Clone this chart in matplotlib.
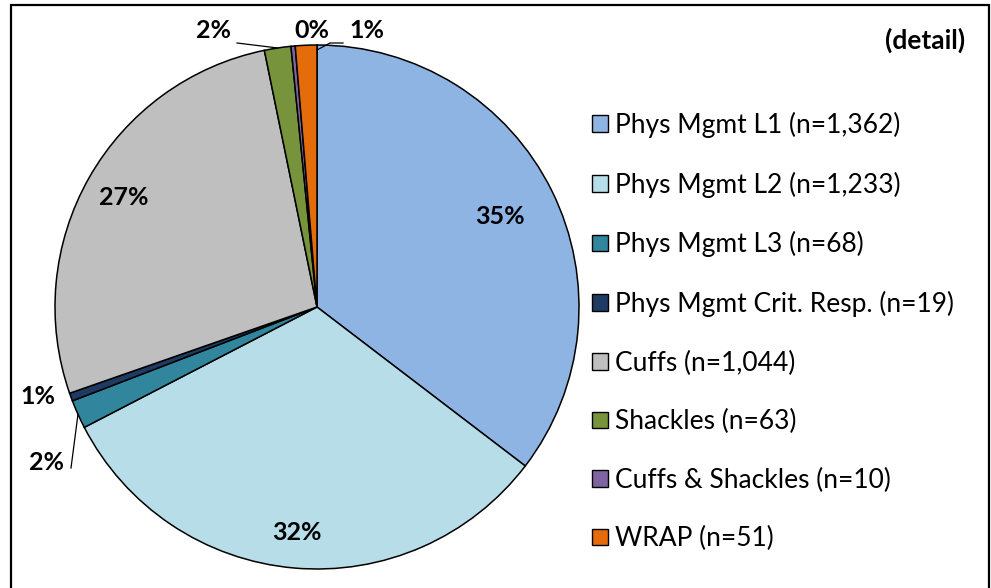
import matplotlib
matplotlib.use("Agg")
import matplotlib.pyplot as plt
from matplotlib.patches import Rectangle, Patch
import numpy as np

plt.rcParams['font.family'] = ['Lato', 'DejaVu Sans']

categories = ["Phys Mgmt L1", "Phys Mgmt L2", "Phys Mgmt L3", "Phys Mgmt Crit. Resp.",
              "Cuffs", "Shackles", "Cuffs & Shackles", "WRAP"]
counts = [1362, 1233, 68, 19, 1044, 63, 10, 51]
pct_labels = ["35%", "32%", "2%", "1%", "27%", "2%", "0%", "1%"]
colors = ["#8EB4E3", "#B7DEE8", "#31859C", "#1F3B63", "#BFBFBF", "#77933C", "#8064A2", "#E46C0A"]
title_text = "(detail)"

W, H = 991, 588
fig = plt.figure(figsize=(W / 100, H / 100), dpi=100)

# frame
fig.patches.append(Rectangle((11 / W, -0.05), (989 - 11) / W, (H - 5) / H + 0.05,
                             transform=fig.transFigure, fill=False, edgecolor='black',
                             linewidth=1.6, zorder=0))

cx, cy, R = 317, 307, 262
ax = fig.add_axes([(cx - R) / W, (H - cy - R) / H, 2 * R / W, 2 * R / H])
ax.axis('off')

wedges, _ = ax.pie(counts, colors=colors, startangle=90, counterclock=False,
                   radius=1, wedgeprops=dict(edgecolor='black', linewidth=1.1),
                   frame=False)
ax.set_xlim(-1, 1)
ax.set_ylim(-1, 1)
for w in wedges:
    w.set_clip_on(False)


def mid_angle(w):
    return np.deg2rad((w.theta1 + w.theta2) / 2)


lab_font = dict(fontsize=18, fontweight='bold', ha='center', va='center')

# inside labels (radius fraction along the wedge's mid angle)
inside = {0: 0.78, 1: 0.865, 4: 0.85}
for i, r in inside.items():
    a = mid_angle(wedges[i])
    ax.text(r * np.cos(a), r * np.sin(a), pct_labels[i], **lab_font)


def px2d(x, y):
    return ((x - cx) / R, (cy - y) / R)


outside = {2: (47, 462), 3: (38, 397), 5: (213, 30), 6: (312, 30), 7: (367, 30)}
for i, (x, y) in outside.items():
    tx, ty = px2d(x, y)
    ax.text(tx, ty, pct_labels[i], clip_on=False, **lab_font)


def edge(i, r=1.0):
    a = mid_angle(wedges[i])
    return r * np.cos(a), r * np.sin(a)


# leader lines
ex, ey = edge(2)
sx, sy = px2d(71, 468)
ax.plot([sx, ex], [sy, ey], color='black', lw=0.9, clip_on=False)
ex, ey = edge(5)
sx, sy = px2d(237, 43)
ax.plot([sx, ex], [sy, ey], color='black', lw=0.9, clip_on=False)
ex, ey = px2d(317, 50)
p1 = px2d(343, 43)
p2 = px2d(330, 43)
ax.plot([p1[0], p2[0], ex], [p1[1], p2[1], ey], color='black', lw=0.9, clip_on=False)

fig.text(925 / W, 1 - 40 / H, title_text, fontsize=19, fontweight='bold',
         ha='center', va='center')

handles = [Patch(facecolor=c, edgecolor='black', linewidth=1.0) for c in colors]
labels = [f"{cat} (n={n:,})" for cat, n in zip(categories, counts)]
fig.legend(handles, labels, loc='upper left', bbox_to_anchor=(592 / W, 1 - 112 / H),
           frameon=False, fontsize=19, handlelength=0.6, handleheight=0.6,
           handletextpad=0.27, labelspacing=1.27, borderpad=0, borderaxespad=0)

fig.savefig("out.png", dpi=100)
